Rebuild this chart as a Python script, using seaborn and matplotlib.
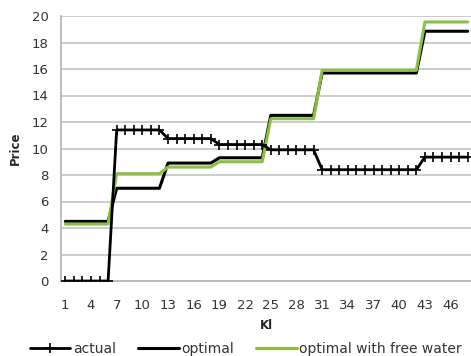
import matplotlib
matplotlib.use("Agg")
import matplotlib.pyplot as plt
import seaborn as sns
import pandas as pd
import numpy as np

# Usage blocks (Kl) and the price paid at each block
kl = list(range(1, 49))
actual = [0.0] * 6 + [11.4] * 6 + [10.75] * 6 + [10.3] * 6 + [9.9] * 6 + [8.4] * 12 + [9.35] * 6
optimal = [4.5] * 6 + [7.0] * 6 + [8.9] * 6 + [9.3] * 6 + [12.5] * 6 + [15.7] * 12 + [18.85] * 6
optimal_free = [4.3] * 6 + [8.1] * 6 + [8.6] * 6 + [9.0] * 6 + [12.25] * 6 + [15.9] * 12 + [19.55] * 6
series_names = ["actual", "optimal", "optimal with free water"]
tick_labels = [str(k) for k in range(1, 47, 3)]

df = pd.DataFrame({"Kl": kl, "actual": actual, "optimal": optimal,
                   "optimal with free water": optimal_free})

sns.set_theme(style="white")
plt.rcParams["font.family"] = ["DejaVu Sans"]

fig = plt.figure(figsize=(4.71, 3.56), dpi=100)
ax = fig.add_axes([61 / 471, (356 - 281) / 356, 411 / 471, 265 / 356])

grey = "#b8b8b8"
green = "#8cbf44"
text_col = "#333333"

sns.lineplot(data=df, x="Kl", y="actual", ax=ax, color="black", lw=2.0,
             marker="+", markersize=7, markeredgewidth=1.2, markeredgecolor="black",
             label=series_names[0], zorder=4)
sns.lineplot(data=df, x="Kl", y="optimal", ax=ax, color="black", lw=2.2,
             label=series_names[1], zorder=3)
sns.lineplot(data=df, x="Kl", y="optimal with free water", ax=ax, color=green, lw=2.2,
             label=series_names[2], zorder=3)

ax.set_xlim(0.5, 48.5)
ax.set_ylim(0, 20)
ax.set_yticks(np.arange(0, 21, 2))
ax.yaxis.grid(True, color="#c8c8c8", lw=1.3)
ax.set_axisbelow(True)

ax.set_xticks(range(1, 47, 3))
ax.set_xticklabels(tick_labels)
ax.set_xticks(np.arange(0.5, 49, 1), minor=True)
ax.tick_params(axis="x", which="major", length=0, pad=13, labelsize=9.5, labelcolor=text_col)
ax.tick_params(axis="x", which="minor", length=4, width=1, color=grey, direction="out")
ax.tick_params(axis="y", which="major", length=4, width=1, color=grey, direction="out",
               pad=5, labelsize=9.5, labelcolor=text_col)

for side in ["top", "right"]:
    ax.spines[side].set_visible(False)
for side in ["left", "bottom"]:
    ax.spines[side].set_color(grey)
    ax.spines[side].set_linewidth(1.3)

ax.set_xlabel("Kl", fontsize=8.5, fontweight="bold", labelpad=5)
ax.set_ylabel("Price", fontsize=8.5, fontweight="bold", labelpad=7)

handles, labels = ax.get_legend_handles_labels()
ax.legend_.remove()
leg = fig.legend(handles, labels, loc="center", bbox_to_anchor=(246 / 471, 1 - 349 / 356),
                 ncol=3, frameon=False, fontsize=10, handlelength=2.9, handletextpad=0.2,
                 columnspacing=1.6, borderpad=0)
for t in leg.get_texts():
    t.set_color(text_col)

fig.savefig("out.png", dpi=100)
